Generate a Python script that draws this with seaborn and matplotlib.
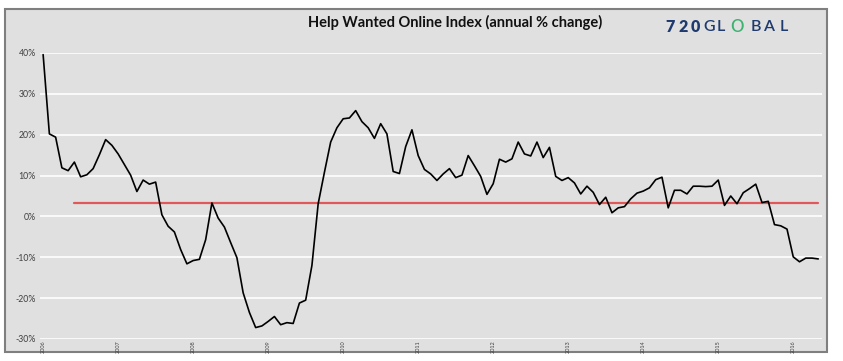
import numpy as np
import pandas as pd
import seaborn as sns
import matplotlib.pyplot as plt
from matplotlib.patches import Rectangle

# monthly annual % change, Jan-06 .. May-16
hwol_change = [
    39.6, 20.2, 19.4, 11.9, 11.2, 13.3, 9.7, 10.2, 11.7, 15.1,
    18.8, 17.4, 15.3, 12.7, 10.1, 6.1, 8.9, 7.9, 8.4, 0.4,
    -2.4, -3.8, -8.1, -11.6, -10.8, -10.5, -5.7, 3.3, -0.4, -2.6,
    -6.4, -10.1, -18.7, -23.5, -27.2, -26.8, -25.7, -24.5, -26.5, -26.0,
    -26.2, -21.2, -20.5, -12.0, 3.1, 10.8, 18.2, 21.7, 23.9, 24.1,
    25.9, 23.2, 21.7, 19.1, 22.7, 20.2, 11.0, 10.5, 17.1, 21.2,
    14.9, 11.5, 10.4, 8.8, 10.4, 11.7, 9.5, 10.1, 14.9, 12.4,
    9.8, 5.4, 8.0, 14.0, 13.3, 14.1, 18.2, 15.3, 14.8, 18.2,
    14.4, 16.9, 9.8, 8.8, 9.5, 8.2, 5.5, 7.4, 5.9, 2.9,
    4.7, 0.9, 2.1, 2.4, 4.3, 5.7, 6.2, 7.0, 9.0, 9.6,
    2.1, 6.4, 6.4, 5.5, 7.4, 7.4, 7.3, 7.4, 8.9, 2.7,
    5.0, 3.1, 5.8, 6.8, 7.9, 3.4, 3.7, -2.0, -2.3, -3.1,
    -9.9, -11.1, -10.2, -10.2, -10.4,
]
average_value = 3.4
average_start = 5

tick_labels = ["2006", "2007", "2008", "2009", "2010", "2011",
               "2012", "2013", "2014", "2015", "2016"]
y_ticks = [-30, -20, -10, 0, 10, 20, 30, 40]

df = pd.DataFrame({"month": np.arange(len(hwol_change)), "change": hwol_change})
avg = df[df["month"] >= average_start].assign(change=average_value)

sns.set_theme(style="white")
plt.rcParams["font.family"] = ["Lato", "DejaVu Sans"]

fig = plt.figure(figsize=(8.43, 3.61), dpi=100, facecolor="white")
# grey chart frame behind everything
fig.patches.append(Rectangle((5 / 843, 9 / 361), 822 / 843, 343 / 361,
                             transform=fig.transFigure, facecolor="#e0e0e0",
                             edgecolor="#7f7f7f", linewidth=1.5, zorder=-5))
ax = fig.add_axes([40 / 843, 22 / 361, 782 / 843, 286 / 361])
ax.set_facecolor("#e0e0e0")

for yv in y_ticks:
    ax.axhline(yv, color="white", lw=1.2, zorder=0)

sns.lineplot(data=avg, x="month", y="change", color="#e0585a", lw=1.6, ax=ax)
sns.lineplot(data=df, x="month", y="change", color="black", lw=1.2, ax=ax)

ax.set_xlim(-0.5, 124.6)
ax.set_ylim(-30, 40)
ax.set_yticks(y_ticks)
ax.set_yticklabels([f"{v}%" for v in y_ticks], fontsize=6.3, color="#404040")
ax.set_xticks(np.arange(0, len(hwol_change), 12))
ax.set_xticklabels(tick_labels, rotation=90, fontsize=4, color="#404040")
ax.tick_params(axis="both", length=0, pad=3)
ax.tick_params(axis="x", pad=1)
ax.set_xlabel("")
ax.set_ylabel("")
for s in ax.spines.values():
    s.set_visible(False)

fig.text(455 / 843, 1 - 22 / 361, "Help Wanted Online Index (annual % change)",
         ha="center", va="center", fontsize=10.5, fontweight="bold", color="#111111")

# spaced-out logo lettering
logo_chars = ["7", "2", "0", "G", "L", "O", "B", "A", "L"]
logo_x = [670, 683, 695, 709, 721, 737, 756, 769, 784]
for ch, px in zip(logo_chars, logo_x):
    fig.text(px / 843, 1 - 27 / 361, ch, ha="center", va="center",
             fontsize=12 if ch == "O" else 11.5,
             fontweight="heavy" if ch.isdigit() else "semibold",
             color="#3cb371" if ch == "O" else "#1f3a6e")

fig.savefig("out.png", dpi=100, facecolor="white")
